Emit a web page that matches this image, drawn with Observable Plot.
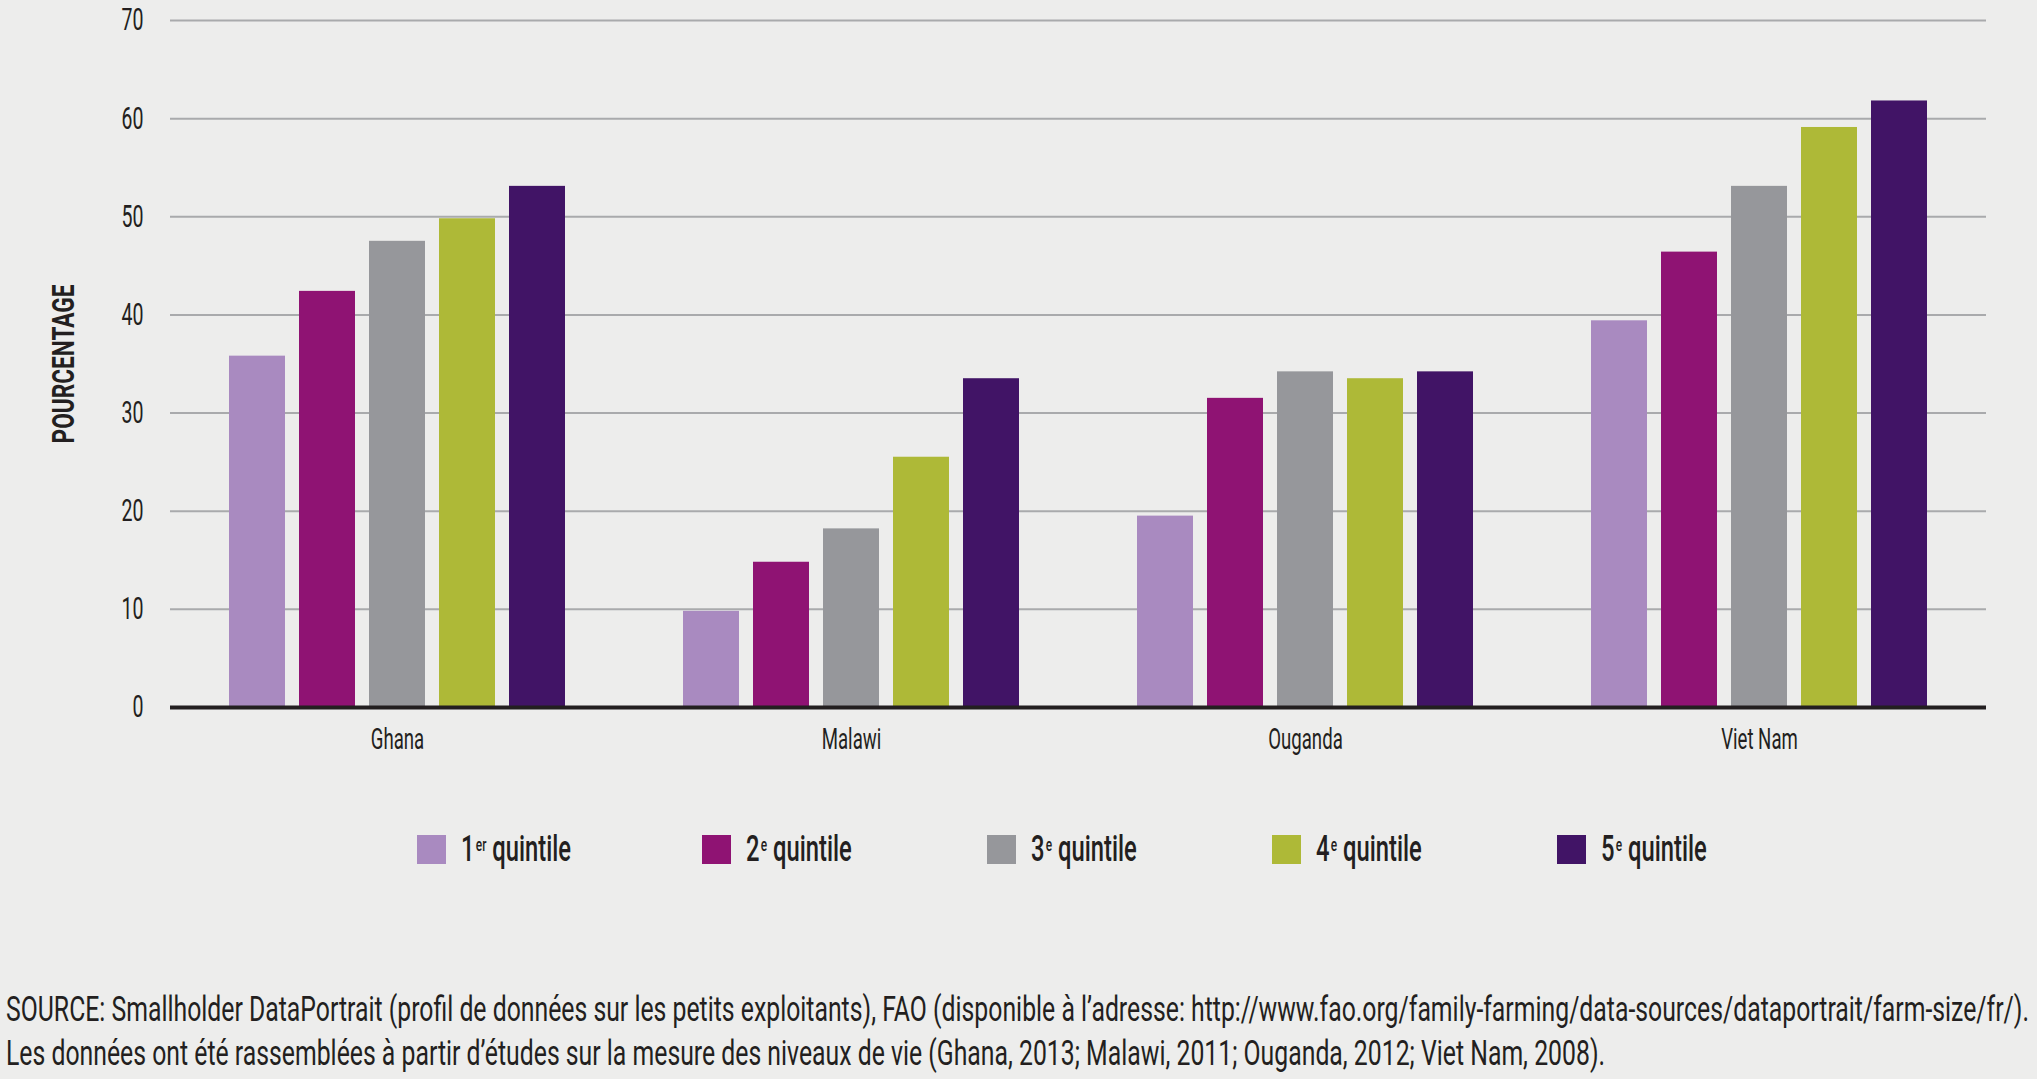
<!DOCTYPE html>
<html><head><meta charset="utf-8">
<script src="https://cdn.jsdelivr.net/npm/d3@7"></script>
<script src="https://cdn.jsdelivr.net/npm/@observablehq/plot@0.6"></script>
<style>
body{margin:0;background:#ededec;width:2037px;height:1079px;overflow:hidden;position:relative;
  font-family:Roboto,"Noto Sans",sans-serif;color:#231f20}
#chart{position:absolute;left:0;top:0}
#legend{position:absolute;top:835px;left:0;width:2037px;height:30px}
.item{position:absolute;top:0;width:300px;height:29px}
.sw{position:absolute;left:0;top:0;width:29px;height:29px}
.lt{position:absolute;left:44px;top:-8px;font-size:36px;line-height:36px;font-weight:500;white-space:nowrap;
  transform:scaleX(0.66);transform-origin:0 0}
.sup{font-size:18px;vertical-align:10px;margin-left:2px}
#caption{position:absolute;left:6px;top:988px;font-size:35px;line-height:44px;white-space:nowrap;transform-origin:0 0}
#caption div{display:block}
#caption span{display:inline-block}
</style></head><body>
<div id="chart"></div><div id="legend"></div><div id="caption"></div>
<script>
const countries = ["Ghana", "Malawi", "Ouganda", "Viet Nam"];
const quintiles = ["1er quintile", "2e quintile", "3e quintile", "4e quintile", "5e quintile"];
const quintileNum = ["1", "2", "3", "4", "5"];
const quintileSup = ["er", "e", "e", "e", "e"];
const colors = ["#a98ac0", "#8f1373", "#96979b", "#aeb937", "#411466"];
const ghana = [35.8, 42.4, 47.5, 49.8, 53.1];
const malawi = [9.8, 14.8, 18.2, 25.5, 33.5];
const ouganda = [19.5, 31.5, 34.2, 33.5, 34.2];
const vietnam = [39.4, 46.4, 53.1, 59.1, 61.8];
const yTicks = [0, 10, 20, 30, 40, 50, 60, 70];
const yLabel = "POURCENTAGE";
const captionLines = [
  "SOURCE: Smallholder DataPortrait (profil de données sur les petits exploitants), FAO (disponible à l’adresse: http://www.fao.org/family-farming/data-sources/dataportrait/farm-size/fr/).",
  "Les données ont été rassemblées à partir d’études sur la mesure des niveaux de vie (Ghana, 2013; Malawi, 2011; Ouganda, 2012; Viet Nam, 2008)."
];

const series = [ghana, malawi, ouganda, vietnam];
const data = [];
countries.forEach((c, i) => quintiles.forEach((q, j) => data.push({country: c, quintile: q, value: series[i][j]})));

const font = 'Roboto,"Noto Sans",sans-serif';

const chart = Plot.plot({
  width: 2037,
  height: 780,
  marginTop: 20,
  marginBottom: 73,
  marginLeft: 169,
  marginRight: 50,
  style: {background: "transparent", fontFamily: font, color: "#231f20", overflow: "visible"},
  fx: {domain: countries, padding: 0},
  x: {domain: quintiles, paddingInner: 0.2, paddingOuter: 0.82, axis: null},
  y: {domain: [0, 70]},
  color: {domain: quintiles, range: colors},
  marks: [
    Plot.gridY(yTicks, {stroke: "#a9aaac", strokeOpacity: 1, strokeWidth: 2}),
    Plot.barY(data, {fx: "country", x: "quintile", y: "value", fill: "quintile"}),
    Plot.ruleY([0], {stroke: "#231f20", strokeWidth: 4}),
    Plot.axisY(yTicks, {tickSize: 0, tickPadding: 27, fontSize: 31, label: null}),
    Plot.axisY({ticks: [], label: yLabel, labelAnchor: "center", labelOffset: 119, labelArrow: "none", fontSize: 31, fontWeight: "bold"}),
    Plot.axisFx({anchor: "bottom", tickSize: 0, tickPadding: 20, fontSize: 30, label: null})
  ]
});
document.getElementById("chart").appendChild(chart);

function squeeze(sel, k) {
  chart.querySelectorAll(sel).forEach(t => {
    const w = t.getComputedTextLength();
    t.setAttribute("textLength", (w * k).toFixed(1));
    t.setAttribute("lengthAdjust", "spacingAndGlyphs");
  });
}
squeeze('g[aria-label="y-axis tick label"] text', 0.63);
squeeze('g[aria-label="fx-axis tick label"] text', 0.62);
squeeze('g[aria-label="y-axis label"] text', 0.73);

const legend = document.getElementById("legend");
quintiles.forEach((q, i) => {
  const it = document.createElement("div");
  it.className = "item";
  it.style.left = (417 + i * 285) + "px";
  it.innerHTML = `<span class="sw" style="background:${colors[i]}"></span><span class="lt">${quintileNum[i]}<span class="sup">${quintileSup[i]}</span> quintile</span>`;
  legend.appendChild(it);
});

const cap = document.getElementById("caption");
cap.innerHTML = captionLines.map(l => `<div><span>${l}</span></div>`).join("");
const w0 = cap.querySelector("span").getBoundingClientRect().width;
cap.style.transform = `scaleX(${2023 / w0})`;
</script>
</body></html>
